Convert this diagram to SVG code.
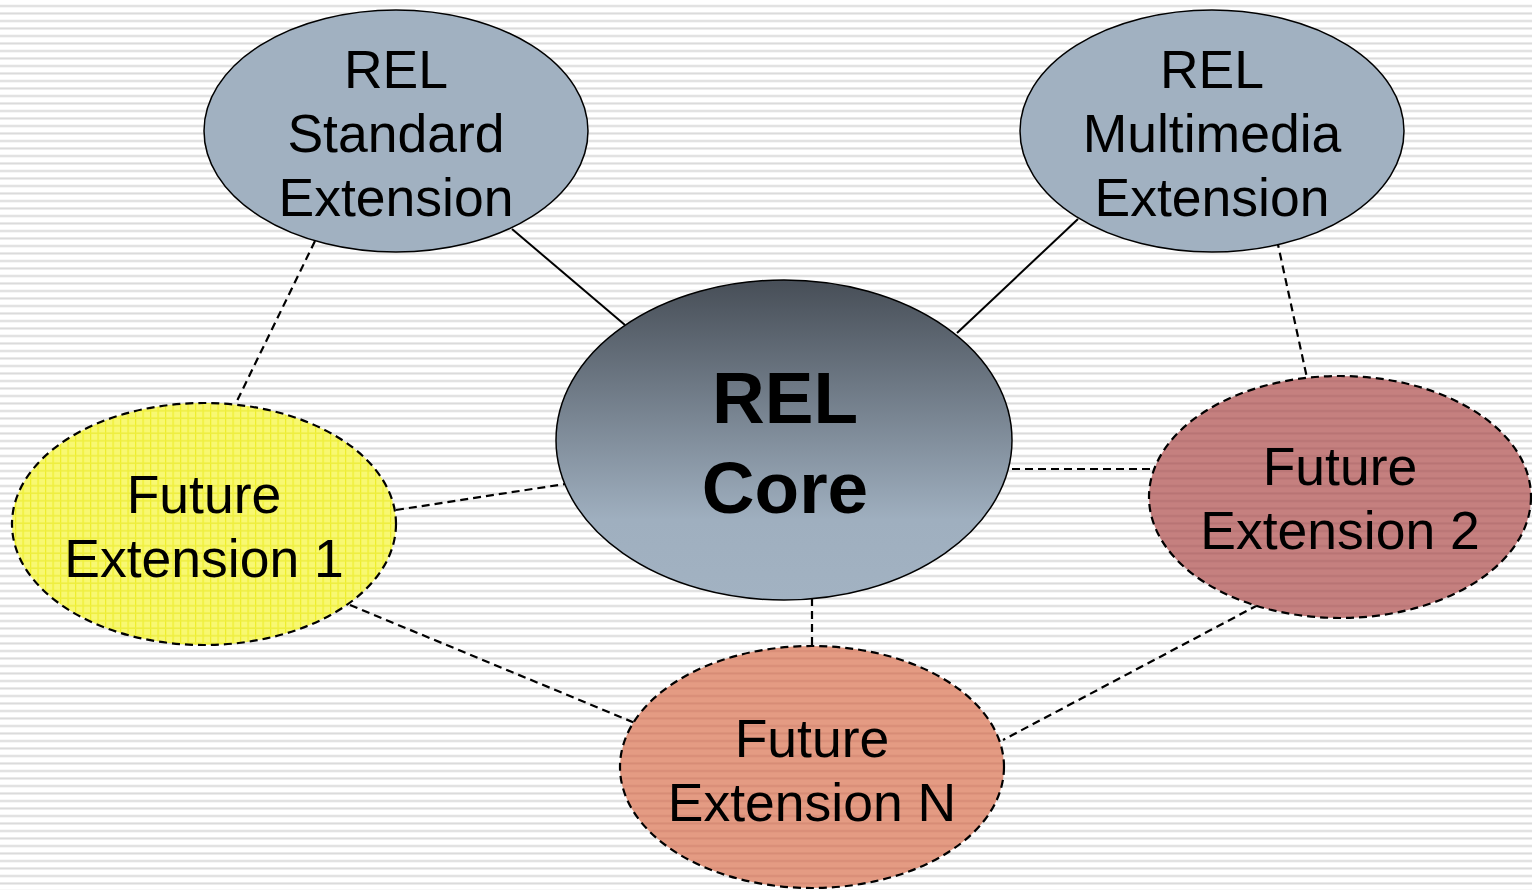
<svg xmlns="http://www.w3.org/2000/svg" width="1532" height="890" viewBox="0 0 1532 890">
  <defs>
    <pattern id="bgStripes" patternUnits="userSpaceOnUse" width="20" height="7.5">
      <rect width="20" height="7.5" fill="#ffffff"/>
      <rect y="5" width="20" height="2" fill="#dadada"/>
    </pattern>
    <pattern id="yellowGrid" patternUnits="userSpaceOnUse" width="7.5" height="7.5">
      <rect width="7.5" height="7.5" fill="#f8f872"/>
      <rect x="0" y="0" width="1.2" height="7.5" fill="#eeee2a"/>
      <rect x="0" y="5" width="7.5" height="1.6" fill="#eeee40"/>
    </pattern>
    <pattern id="redStripes" patternUnits="userSpaceOnUse" width="20" height="7.5">
      <rect width="20" height="7.5" fill="#c5807f"/>
      <rect y="5" width="20" height="2" fill="#b87474"/>
    </pattern>
    <pattern id="salmonStripes" patternUnits="userSpaceOnUse" width="20" height="7.5">
      <rect width="20" height="7.5" fill="#e49b83"/>
      <rect y="5" width="20" height="2" fill="#d78c76"/>
    </pattern>
    <linearGradient id="coreGrad" x1="0" y1="0" x2="0" y2="1">
      <stop offset="0" stop-color="#474e57"/>
      <stop offset="0.75" stop-color="#9fafbf"/>
      <stop offset="1" stop-color="#a2b2c2"/>
    </linearGradient>
    <style>
      .lbl { font-family: "Liberation Sans", Arial, sans-serif; font-size: 53.5px; fill: #000; text-anchor: middle; }
      .core { font-family: "Liberation Sans", Arial, sans-serif; font-size: 73px; font-weight: bold; fill: #000; text-anchor: middle; }
      .solid { stroke: #000; stroke-width: 2; fill: none; }
      .dash { stroke: #000; stroke-width: 2.2; fill: none; stroke-dasharray: 8 5; }
      .ext { fill: #a1b1c1; stroke: #000; stroke-width: 1.5; }
      .future { stroke: #000; stroke-width: 2.2; stroke-dasharray: 8 5; }
    </style>
  </defs>

  <rect width="1532" height="890" fill="url(#bgStripes)"/>

  <g id="connectors">
    <line class="solid" x1="512" y1="229" x2="625" y2="325"/>
    <line class="solid" x1="1078" y1="219" x2="957" y2="333"/>
    <line class="dash" x1="315" y1="241" x2="236" y2="403"/>
    <line class="dash" x1="1277" y1="240" x2="1307" y2="378"/>
    <line class="dash" x1="396" y1="510" x2="565" y2="484"/>
    <line class="dash" x1="1012" y1="469" x2="1150" y2="469"/>
    <line class="dash" x1="812" y1="598" x2="812" y2="646"/>
    <line class="dash" x1="350" y1="605" x2="635" y2="723"/>
    <line class="dash" x1="1258" y1="605" x2="1003" y2="740"/>
  </g>

  <g id="rel-standard">
    <ellipse class="ext" cx="396" cy="131" rx="192" ry="121"/>
    <text class="lbl" x="396" y="88">REL</text>
    <text class="lbl" x="396" y="152">Standard</text>
    <text class="lbl" x="396" y="216">Extension</text>
  </g>

  <g id="rel-multimedia">
    <ellipse class="ext" cx="1212" cy="131" rx="192" ry="121"/>
    <text class="lbl" x="1212" y="88">REL</text>
    <text class="lbl" x="1212" y="152">Multimedia</text>
    <text class="lbl" x="1212" y="216">Extension</text>
  </g>

  <g id="rel-core">
    <ellipse cx="784" cy="440" rx="228" ry="160" fill="url(#coreGrad)" stroke="#000" stroke-width="1.5"/>
    <text class="core" x="785" y="423">REL</text>
    <text class="core" x="785" y="513">Core</text>
  </g>

  <g id="future-1">
    <ellipse class="future" cx="204" cy="524" rx="192" ry="121" fill="url(#yellowGrid)"/>
    <text class="lbl" x="204" y="513">Future</text>
    <text class="lbl" x="204" y="577">Extension 1</text>
  </g>

  <g id="future-2">
    <ellipse class="future" cx="1340" cy="497" rx="191" ry="121" fill="url(#redStripes)"/>
    <text class="lbl" x="1340" y="485">Future</text>
    <text class="lbl" x="1340" y="549">Extension 2</text>
  </g>

  <g id="future-n">
    <ellipse class="future" cx="812" cy="767" rx="192" ry="121" fill="url(#salmonStripes)"/>
    <text class="lbl" x="812" y="757">Future</text>
    <text class="lbl" x="812" y="821">Extension N</text>
  </g>
</svg>
